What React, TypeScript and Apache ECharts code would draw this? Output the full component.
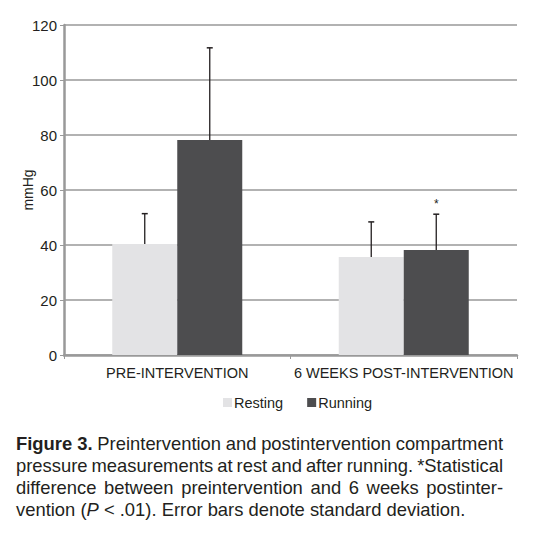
import React, { useEffect, useRef } from "react";
import * as echarts from "echarts";

const categories = ["PRE-INTERVENTION", "6 WEEKS POST-INTERVENTION"];
const seriesNames = ["Resting", "Running"];
const restingMean = [40.4, 35.6];
const restingSD = [11.0, 12.8];
const runningMean = [78.2, 38.2];
const runningSD = [33.5, 13.0];
const significance = ["", "*"];
const yTicks = { min: 0, max: 120, interval: 20 };

const captionLines = [
  [{ t: "Figure 3.", b: true }, { t: "Preintervention" }, { t: "and" }, { t: "postintervention" }, { t: "compartment" }],
  [{ t: "pressure" }, { t: "measurements" }, { t: "at" }, { t: "rest" }, { t: "and" }, { t: "after" }, { t: "running." }, { t: "*Statistical" }],
  [{ t: "difference" }, { t: "between" }, { t: "preintervention" }, { t: "and" }, { t: "6" }, { t: "weeks" }, { t: "postinter-" }],
];
const captionLast = "vention ({i|P} < .01). Error bars denote standard deviation.";

const FONT = "'Liberation Sans', Arial, Helvetica, sans-serif";
const TXT = "#231f20";

export default function App() {
  const ref = useRef<HTMLDivElement>(null);
  useEffect(() => {
    if (!ref.current) return;
    const chart = echarts.init(ref.current, undefined, { renderer: "svg" });
    const capFs = 18.4;
    const canvas = document.createElement("canvas");
    const ctx = canvas.getContext("2d")!;
    const measure = (s: string, bold?: boolean) => {
      ctx.font = `${bold ? "bold " : ""}${capFs}px ${FONT}`;
      return ctx.measureText(s).width;
    };
    const left = 16;
    const right = 503;
    const lineY = [443, 465, 487, 509];
    const graphics: any[] = [];
    captionLines.forEach((words, li) => {
      const widths = words.map((w: any) => measure(w.t, w.b));
      const sum = widths.reduce((a, b) => a + b, 0);
      const gap = (right - left - sum) / (words.length - 1);
      let x = left;
      words.forEach((w: any, wi) => {
        graphics.push({
          type: "text",
          x,
          y: lineY[li],
          style: {
            text: w.t,
            fontFamily: FONT,
            fontSize: capFs,
            fontWeight: w.b ? "bold" : "normal",
            fill: TXT,
            verticalAlign: "middle",
          },
        });
        x += widths[wi] + gap;
      });
    });
    graphics.push({
      type: "text",
      x: left,
      y: lineY[3],
      style: {
        text: captionLast,
        fontFamily: FONT,
        fontSize: capFs,
        fill: TXT,
        verticalAlign: "middle",
        rich: { i: { fontStyle: "italic", fontFamily: FONT, fontSize: capFs, fill: TXT } },
      },
    });

    const errSeries = (means: number[], sds: number[], offset: number, name: string, withSig: boolean) => ({
      type: "custom",
      name: name + " SD",
      z: 5,
      silent: true,
      encode: { x: 0, y: 1 },
      data: means.map((m, i) => [i, m, sds[i]]),
      renderItem: (params: any, api: any) => {
        const idx = api.value(0);
        const mean = api.value(1);
        const sd = api.value(2);
        const base = api.coord([idx, mean]);
        const top = api.coord([idx, mean + sd]);
        const catW = api.size([1, 0])[0];
        const bw = catW * 0.287;
        const x = base[0] + (offset * bw) / 2;
        const children: any[] = [
          { type: "line", shape: { x1: x, y1: base[1], x2: x, y2: top[1] }, style: { stroke: "#231f20", lineWidth: 1.3 } },
          { type: "line", shape: { x1: x - 3, y1: top[1], x2: x + 3, y2: top[1] }, style: { stroke: "#231f20", lineWidth: 1.5 } },
        ];
        if (withSig && significance[idx]) {
          children.push({
            type: "text",
            x,
            y: top[1] - 4,
            style: { text: significance[idx], fontFamily: FONT, fontSize: 12, fill: TXT, align: "center", verticalAlign: "bottom" },
          });
        }
        return { type: "group", children };
      },
    });

    chart.setOption({
      animation: false,
      textStyle: { fontFamily: FONT },
      grid: { left: 64, right: 19, top: 25, bottom: 188 },
      legend: {
        data: seriesNames,
        top: 390,
        left: 218,
        itemWidth: 9,
        itemHeight: 9,
        itemGap: 24,
        icon: "rect",
        textStyle: { fontSize: 14.5, color: TXT, fontFamily: FONT, padding: [0, 0, 0, -3] },
      },
      xAxis: {
        type: "category",
        data: categories,
        axisLine: { lineStyle: { color: "#999", width: 2.5 } },
        axisTick: { show: true, length: 4, lineStyle: { color: "#999" } },
        axisLabel: { fontSize: 14.5, color: TXT, fontFamily: FONT, margin: 10, interval: 0 },
      },
      yAxis: {
        type: "value",
        min: yTicks.min,
        max: yTicks.max,
        interval: yTicks.interval,
        name: "mmHg",
        nameLocation: "middle",
        nameGap: 29,
        nameMoveOverlap: false,
        nameTextStyle: { fontSize: 14, color: TXT, fontFamily: FONT },
        axisLine: { show: true, lineStyle: { color: "#999", width: 2.5 } },
        axisTick: { show: true, length: 4, lineStyle: { color: "#999" } },
        axisLabel: { fontSize: 15, color: TXT, fontFamily: FONT, margin: 7 },
        splitLine: { lineStyle: { color: "#999", width: 1.5 } },
      },
      series: [
        { type: "bar", name: seriesNames[0], data: restingMean, barWidth: "28.7%", barGap: "0%", itemStyle: { color: "#e3e3e5" } },
        { type: "bar", name: seriesNames[1], data: runningMean, barWidth: "28.7%", barGap: "0%", itemStyle: { color: "#4d4d4f" } },
        errSeries(restingMean, restingSD, -1, seriesNames[0], false),
        errSeries(runningMean, runningSD, 1, seriesNames[1], true),
      ],
      graphic: graphics,
    });
    return () => chart.dispose();
  }, []);
  return <div ref={ref} style={{ position: "fixed", left: 0, top: 0, width: 536, height: 543, background: "#fff" }} />;
}
